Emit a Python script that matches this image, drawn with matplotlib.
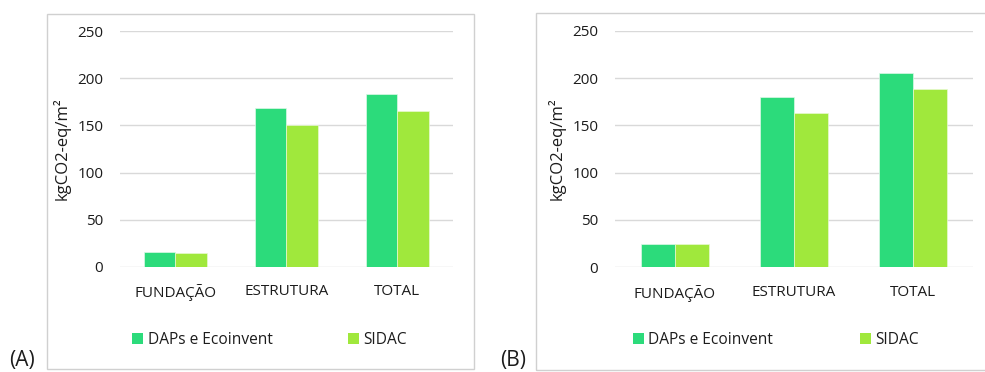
import matplotlib
matplotlib.use("Agg")
import matplotlib.pyplot as plt
from matplotlib.patches import Rectangle, Patch
import numpy as np

plt.rcParams['font.family'] = ['Open Sans', 'DejaVu Sans']

categories = ["FUNDAÇÃO", "ESTRUTURA", "TOTAL"]
series_names = ["DAPs e Ecoinvent", "SIDAC"]
panel_a_daps = [15.3, 168.3, 183.5]
panel_a_sidac = [14.2, 150.2, 165.4]
panel_b_daps = [25.0, 180.4, 205.4]
panel_b_sidac = [25.0, 163.5, 188.8]
y_ticks = [0, 50, 100, 150, 200, 250]
y_label = "kgCO2-eq/m²"
panel_tags = ["(A)", "(B)"]

C_DAPS = "#2CDB7B"
C_SIDAC = "#A0E83C"
TEXT = "#1C1C1C"
GRID = "#D9D9D9"
FRAME = "#D0D0D0"

W, H = 985, 372
fig = plt.figure(figsize=(W / 100, H / 100), dpi=100)


def fx(px):
    return px / W


def fy(py):
    return 1 - py / H


def panel(frame, axbox, daps, sidac, leg_left, leg2_left):
    # light frame around the whole chart
    x0, y0, x1, y1 = frame
    fig.patches.append(Rectangle((fx(x0), fy(y1)), fx(x1 - x0), (y1 - y0) / H,
                                 transform=fig.transFigure, fill=False,
                                 edgecolor=FRAME, linewidth=1.0))
    l, t, r, b = axbox
    ax = fig.add_axes([fx(l), fy(b), fx(r - l), (b - t) / H])
    x = np.arange(len(categories))
    w = 0.285
    ax.bar(x - w / 2, daps, w, color=C_DAPS, edgecolor="#DDF8E8", linewidth=0.5,
           zorder=3, label=series_names[0])
    ax.bar(x + w / 2, sidac, w, color=C_SIDAC, edgecolor="#E8F9D2", linewidth=0.5,
           zorder=3, label=series_names[1])
    ax.set_xlim(-0.5, len(categories) - 0.5)
    ax.set_ylim(0, 250)
    ax.set_yticks(y_ticks)
    ax.set_xticks(x)
    ax.set_xticklabels(categories)
    ax.grid(axis="y", color=GRID, linewidth=1.0, zorder=0)
    ax.set_axisbelow(True)
    for s in ax.spines.values():
        s.set_visible(False)
    ax.tick_params(axis="both", length=0, labelsize=11, colors=TEXT)
    ax.tick_params(axis="y", pad=12)
    ax.tick_params(axis="x", pad=12.5)
    ax.set_ylabel(y_label, fontsize=12, color=TEXT, labelpad=5)

    # legend entries placed individually
    ytop = 340
    for name, col, left in ((series_names[0], C_DAPS, leg_left),
                            (series_names[1], C_SIDAC, leg2_left)):
        fig.legend(handles=[Patch(facecolor=col, edgecolor="none")],
                   labels=[name], loc="center left",
                   bbox_to_anchor=(fx(left), fy(ytop)), frameon=False,
                   borderpad=0, borderaxespad=0, handlelength=0.7,
                   handleheight=0.7, handletextpad=0.3,
                   fontsize=11.2, labelcolor=TEXT)
    return ax


panel((47, 14, 474, 369), (120, 31.3, 452.7, 266.7),
      panel_a_daps, panel_a_sidac, 132, 348)
panel((536, 13.3, 1000, 370), (615, 30.7, 972.7, 267.2),
      panel_b_daps, panel_b_sidac, 632.7, 860)

fig.text(fx(9), fy(371), panel_tags[0], fontsize=15, color=TEXT, va="bottom")
fig.text(fx(500), fy(371), panel_tags[1], fontsize=15, color=TEXT, va="bottom")

fig.savefig("out.png", dpi=100)
